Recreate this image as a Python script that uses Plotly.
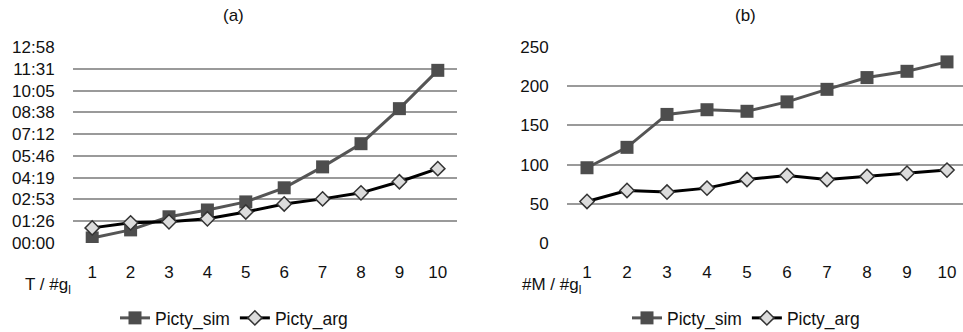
import plotly.graph_objects as go

categories = [1, 2, 3, 4, 5, 6, 7, 8, 9, 10]

# (a) time in seconds
time_sim = [20, 52, 104, 131, 163, 219, 302, 394, 533, 685]
time_arg = [60, 80, 84, 96, 123, 155, 175, 199, 243, 295]
time_tickvals = [0, 86.4, 172.8, 259.2, 345.6, 432, 518.4, 604.8, 691.2, 777.6]
time_ticktext = ["00:00", "01:26", "02:53", "04:19", "05:46", "07:12", "08:38", "10:05", "11:31", "12:58"]

# (b) number of M
m_sim = [96, 122, 164, 170, 168, 180, 196, 211, 219, 231]
m_arg = [53, 67, 65, 70, 81, 86, 81, 85, 89, 93]
m_tickvals = [0, 50, 100, 150, 200, 250]

FONT = "Liberation Sans, Arial, sans-serif"
FS = 17
LFS = 17.5
SIM_COLOR = "#555555"
ARG_COLOR = "#000000"
GRID = "#9a9a9a"
TXT = "#111111"

fig = go.Figure()

sim_marker = dict(symbol="square", size=13, color="#4d4d4d", line=dict(width=0))
arg_marker = dict(symbol="diamond", size=11, color="#dcdcdc", line=dict(width=1.5, color="#333333"))

fig.add_trace(go.Scatter(x=categories, y=time_sim, name="Picty_sim", mode="lines+markers",
                         line=dict(color=SIM_COLOR, width=3), marker=sim_marker,
                         xaxis="x", yaxis="y", legend="legend"))
fig.add_trace(go.Scatter(x=categories, y=time_arg, name="Picty_arg", mode="lines+markers",
                         line=dict(color=ARG_COLOR, width=3), marker=arg_marker,
                         xaxis="x", yaxis="y", legend="legend"))
fig.add_trace(go.Scatter(x=categories, y=m_sim, name="Picty_sim", mode="lines+markers",
                         line=dict(color=SIM_COLOR, width=3), marker=sim_marker,
                         xaxis="x2", yaxis="y2", legend="legend2"))
fig.add_trace(go.Scatter(x=categories, y=m_arg, name="Picty_arg", mode="lines+markers",
                         line=dict(color=ARG_COLOR, width=3), marker=arg_marker,
                         xaxis="x2", yaxis="y2", legend="legend2"))

W, H = 963, 332
def px(x):
    return x / W
def py(y):
    return 1 - y / H

y_dom = [py(243), py(47)]
tick_font = dict(family=FONT, size=FS, color=TXT)

common_x = dict(showgrid=False, zeroline=False, showline=False, automargin=False,
                ticks="outside", ticklen=14, tickcolor="rgba(0,0,0,0)", tickfont=tick_font)
common_y = dict(showgrid=True, gridcolor=GRID, gridwidth=1.5, zeroline=False, showline=False,
                automargin=False, ticks="outside", ticklen=14, tickcolor="rgba(0,0,0,0)",
                tickfont=tick_font)

fig.update_layout(
    template="none",
    width=W, height=H,
    margin=dict(l=0, r=0, t=0, b=0, pad=0, autoexpand=False),
    paper_bgcolor="white", plot_bgcolor="white",
    font=dict(family=FONT, size=FS, color=TXT),
    xaxis=dict(domain=[px(73), px(457)], range=[0.5, 10.5], tickvals=categories, anchor="y", **common_x),
    yaxis=dict(domain=y_dom, range=[0, 777.6], tickvals=time_tickvals, ticktext=time_ticktext,
               anchor="x", **common_y),
    xaxis2=dict(domain=[px(567), 1.0], range=[0.5, 0.5 + (W - 567) / 40.0], tickvals=categories,
                anchor="y2", **common_x),
    yaxis2=dict(domain=y_dom, range=[0, 250], tickvals=m_tickvals, anchor="x2", **common_y),
    legend=dict(orientation="h", x=px(234), y=py(318), xanchor="center", yanchor="middle",
                font=dict(family=FONT, size=LFS, color=TXT), bgcolor="rgba(0,0,0,0)",
                tracegroupgap=0, itemwidth=30),
    legend2=dict(orientation="h", x=px(746), y=py(318), xanchor="center", yanchor="middle",
                 font=dict(family=FONT, size=LFS, color=TXT), bgcolor="rgba(0,0,0,0)",
                 tracegroupgap=0, itemwidth=30),
    annotations=[
        dict(text="(a)", x=px(233), y=py(15), xref="paper", yref="paper", showarrow=False,
             font=dict(family=FONT, size=17, color=TXT), xanchor="center", yanchor="middle"),
        dict(text="(b)", x=px(745), y=py(15), xref="paper", yref="paper", showarrow=False,
             font=dict(family=FONT, size=17, color=TXT), xanchor="center", yanchor="middle"),
        dict(text="T / #g<sub>l</sub>", x=px(73), y=py(286), xref="paper", yref="paper", showarrow=False,
             font=dict(family=FONT, size=FS, color=TXT), xanchor="right", yanchor="middle"),
        dict(text="#M / #g<sub>l</sub>", x=px(583), y=py(286), xref="paper", yref="paper", showarrow=False,
             font=dict(family=FONT, size=FS, color=TXT), xanchor="right", yanchor="middle"),
    ],
)

fig.write_html("out.html", config={"displayModeBar": False},
               post_script="document.body.style.margin='0';")
